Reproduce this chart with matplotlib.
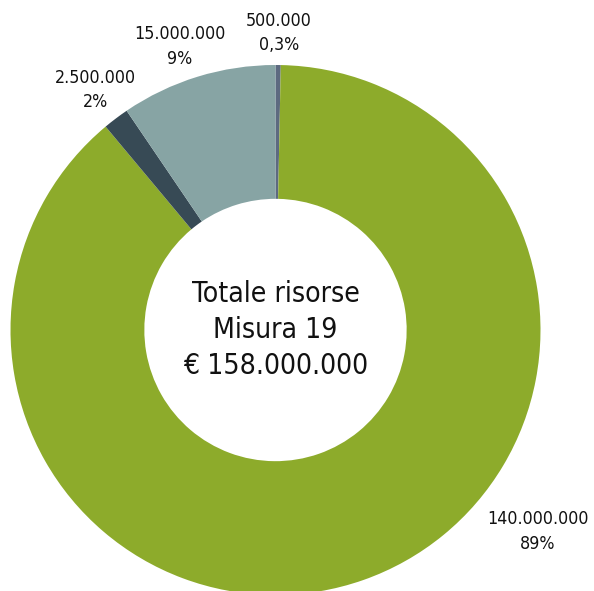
import matplotlib
matplotlib.use("Agg")
import matplotlib.pyplot as plt

# risorse Misura 19, in senso orario dall'alto
values = [500000, 140000000, 2500000, 15000000]
amounts = ["500.000", "140.000.000", "2.500.000", "15.000.000"]
shares = ["0,3%", "89%", "2%", "9%"]
colors = ["#5d6a80", "#8dab2b", "#374a55", "#87a4a4"]
center_lines = ["Totale risorse", "Misura 19", "\u20ac 158.000.000"]

plt.rcParams['font.family'] = ['DejaVu Sans']

W, H = 594, 591
fig = plt.figure(figsize=(W / 100, H / 100), dpi=100)
cx, cy, r = 275.5, 330, 265
ax = fig.add_axes([(cx - r) / W, (H - cy - r) / H, 2 * r / W, 2 * r / H])

ax.pie(values, colors=colors, startangle=90, counterclock=False, radius=1,
       wedgeprops=dict(width=0.505, linewidth=0))
ax.set_xlim(-1, 1)
ax.set_ylim(-1, 1)
ax.axis("off")

# posizioni etichette (coordinate dati)
label_pos = [(0.013, 1.12), (0.99, -0.76), (-0.68, 0.905), (-0.36, 1.07)]
for (x, y), a, s in zip(label_pos, amounts, shares):
    ax.text(x, y, a + "\n" + s, ha="center", va="center", fontsize=12.8,
            fontstretch="condensed", linespacing=1.45, color="#111111",
            clip_on=False)

ax.text(0.0, 0.0, "\n".join(center_lines), ha="center", va="center",
        fontsize=20.3, fontstretch="condensed", linespacing=1.38,
        color="#111111")

fig.savefig("out.png", dpi=100)
